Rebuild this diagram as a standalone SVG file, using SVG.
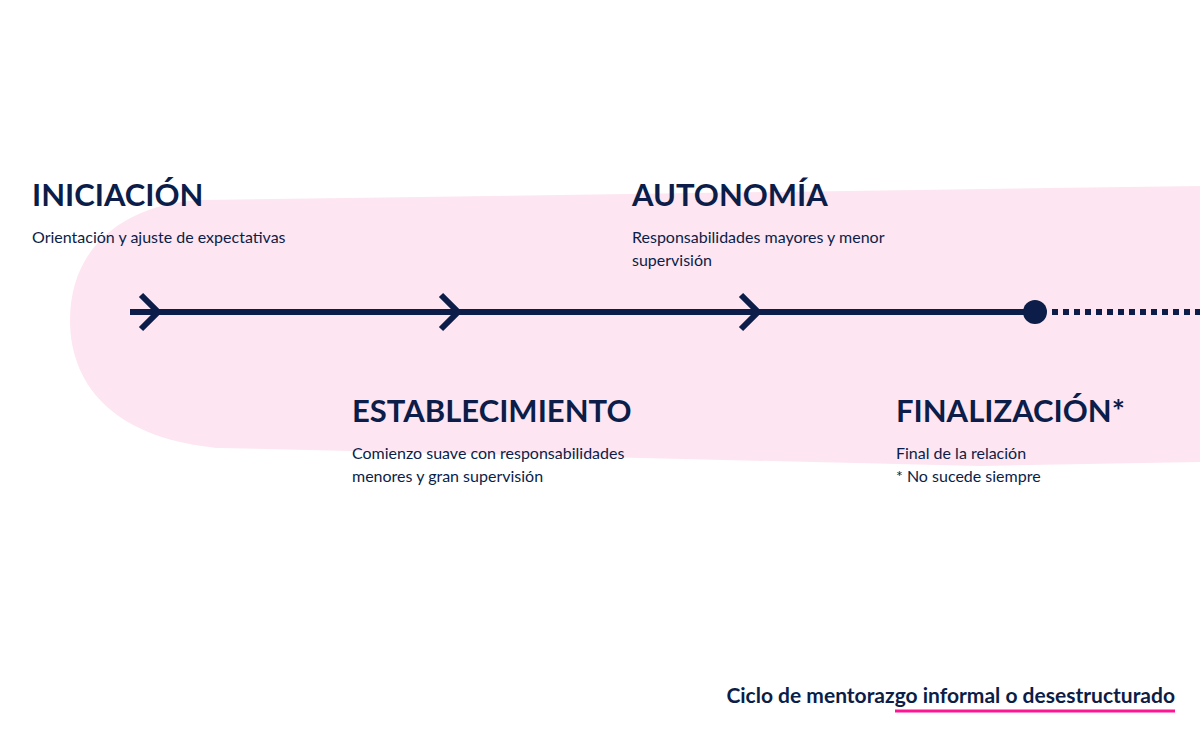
<svg xmlns="http://www.w3.org/2000/svg" width="1200" height="750" viewBox="0 0 1200 750">
<style>
.t{font-family:Lato,"Noto Sans",sans-serif;font-weight:700;font-size:31px;fill:#0b1d48}
.d{font-family:Lato,"Noto Sans",sans-serif;font-size:16px;fill:#0b1d48}
.ln{stroke:#0b1d48;stroke-width:6;fill:none}
</style>
<rect width="1200" height="750" fill="#fff"/>
<path d="M200,200 L1200,186 L1200,462 L980,466 L220,448 C120,440 70,390 70,320 C70,250 120,205 200,200 Z" fill="#fde6f1"/>
<g id="connectors">
<line class="ln" x1="130" y1="312" x2="1035" y2="312"/>
<path class="ln" d="M141,295 L158,312 L141,329"/>
<path class="ln" d="M441,295 L458,312 L441,329"/>
<path class="ln" d="M741,295 L758,312 L741,329"/>
<line class="ln" x1="1052" y1="312" x2="1200" y2="312" stroke-dasharray="6,5"/>
</g>
<g id="finish"><circle cx="1035" cy="312" r="12" fill="#0b1d48"/></g>
<g id="iniciacion"><text class="t" x="32" y="206">INICIACIÓN</text><text class="d" x="32" y="243">Orientación y ajuste de expectativas</text></g>
<g id="autonomia"><text class="t" x="632" y="206">AUTONOMÍA</text><text class="d" x="632" y="243">Responsabilidades mayores y menor</text><text class="d" x="632" y="266">supervisión</text></g>
<g id="establecimiento"><text class="t" x="352" y="422">ESTABLECIMIENTO</text><text class="d" x="352" y="459">Comienzo suave con responsabilidades</text><text class="d" x="352" y="482">menores y gran supervisión</text></g>
<g id="finalizacion"><text class="t" x="896" y="422">FINALIZACIÓN*</text><text class="d" x="896" y="459">Final de la relación</text><text class="d" x="896" y="482">* No sucede siempre</text></g>
<g id="caption"><text class="d" x="1175" y="703" text-anchor="end" style="font-weight:700;font-size:21px">Ciclo de mentorazgo informal o desestructurado</text>
<line x1="895" y1="711" x2="1175" y2="711" stroke="#ff1493" stroke-width="3"/></g>
</svg>
